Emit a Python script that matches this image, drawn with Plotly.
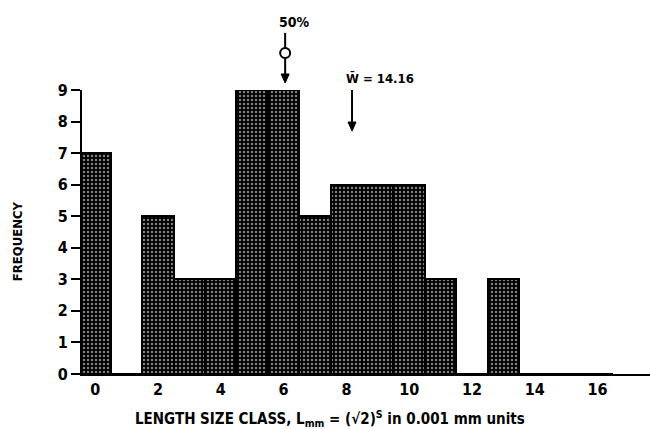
import plotly.graph_objects as go

size_class = list(range(0, 17))
frequency = [7, 0, 5, 3, 3, 9, 9, 5, 6, 6, 6, 3, 0, 3, 0, 0, 0]
x_ticks = [0, 2, 4, 6, 8, 10, 12, 14, 16]
y_ticks = list(range(0, 10))

median_x = 6.05
mean_x = 8.18
mean_label = "W\u0304 = 14.16"
x_title = "LENGTH SIZE CLASS, L<sub>mm</sub> = (\u221a2)<sup>S</sup> in 0.001 mm units"
y_title = "FREQUENCY"

FONT = "DejaVu Sans Condensed, Liberation Sans, sans-serif"
X_RANGE = [-0.42, 17.67]
PLOT_W, PLOT_H = 568, 283.5


def xpaper(v):
    return (v - X_RANGE[0]) / (X_RANGE[1] - X_RANGE[0])


def arrow(fig, xv, y_tail, y_head):
    """Vertical down arrow in paper coords at data x=xv."""
    px = xpaper(xv)
    hw = 4 / PLOT_W
    hh = 9 / PLOT_H
    fig.add_shape(type="line", xref="paper", yref="paper", x0=px, x1=px,
                  y0=y_tail, y1=y_head + hh * 0.5, line=dict(color="black", width=2))
    fig.add_shape(type="path", xref="paper", yref="paper",
                  path=f"M {px - hw} {y_head + hh} L {px + hw} {y_head + hh} L {px} {y_head} Z",
                  fillcolor="black", line=dict(color="black", width=1))


fig = go.Figure()
fig.add_trace(go.Bar(
    x=size_class, y=frequency, width=1,
    marker=dict(color="black", line=dict(color="black", width=2),
                pattern=dict(shape=".", fgcolor="white", bgcolor="black",
                             size=4, solidity=0.3)),
    showlegend=False,
))

fig.update_layout(
    width=650, height=429,
    margin=dict(l=82, r=0, t=90, b=55),
    paper_bgcolor="white", plot_bgcolor="white",
    bargap=0,
    font=dict(family=FONT, size=14, color="black", weight="bold"),
    xaxis=dict(range=X_RANGE, tickvals=x_ticks, showgrid=False, zeroline=False,
               showline=True, linecolor="black", linewidth=2, ticks="",
               tickfont=dict(size=16)),
    yaxis=dict(range=[0, 9], tickvals=y_ticks, showgrid=False, zeroline=False,
               showline=True, linecolor="black", linewidth=2, ticks="outside",
               ticklen=9, tickwidth=2, tickcolor="black", tickfont=dict(size=16)),
)

# axis titles
fig.add_annotation(x=(330 - 82) / PLOT_W, y=(373.5 - 418) / PLOT_H, xref="paper", yref="paper",
                   text=x_title, showarrow=False, xanchor="center", yanchor="middle",
                   font=dict(size=15))
fig.add_annotation(x=(17 - 82) / PLOT_W, y=(373.5 - 241) / PLOT_H, xref="paper", yref="paper",
                   text=y_title, textangle=-90, showarrow=False, xanchor="center",
                   yanchor="middle", font=dict(size=13))

# 50% (median) marker: line with open circle and arrow
fig.add_annotation(x=median_x + 0.3, y=1.24, xref="x", yref="paper", text="50%",
                   showarrow=False, yanchor="middle", font=dict(size=14))
arrow(fig, median_x, (373.5 - 33) / PLOT_H, (373.5 - 83) / PLOT_H)
cx = xpaper(median_x)
cy = (373.5 - 53) / PLOT_H
fig.add_shape(type="circle", xref="paper", yref="paper",
              x0=cx - 5 / PLOT_W, x1=cx + 5 / PLOT_W, y0=cy - 5 / PLOT_H, y1=cy + 5 / PLOT_H,
              fillcolor="white", line=dict(color="black", width=2), layer="above")

# mean marker
fig.add_annotation(x=mean_x - 0.25, y=1.04, xref="x", yref="paper", text=mean_label,
                   showarrow=False, xanchor="left", yanchor="middle", font=dict(size=13))
arrow(fig, mean_x, (373.5 - 90) / PLOT_H, (373.5 - 131) / PLOT_H)

fig.write_html("out.html")
